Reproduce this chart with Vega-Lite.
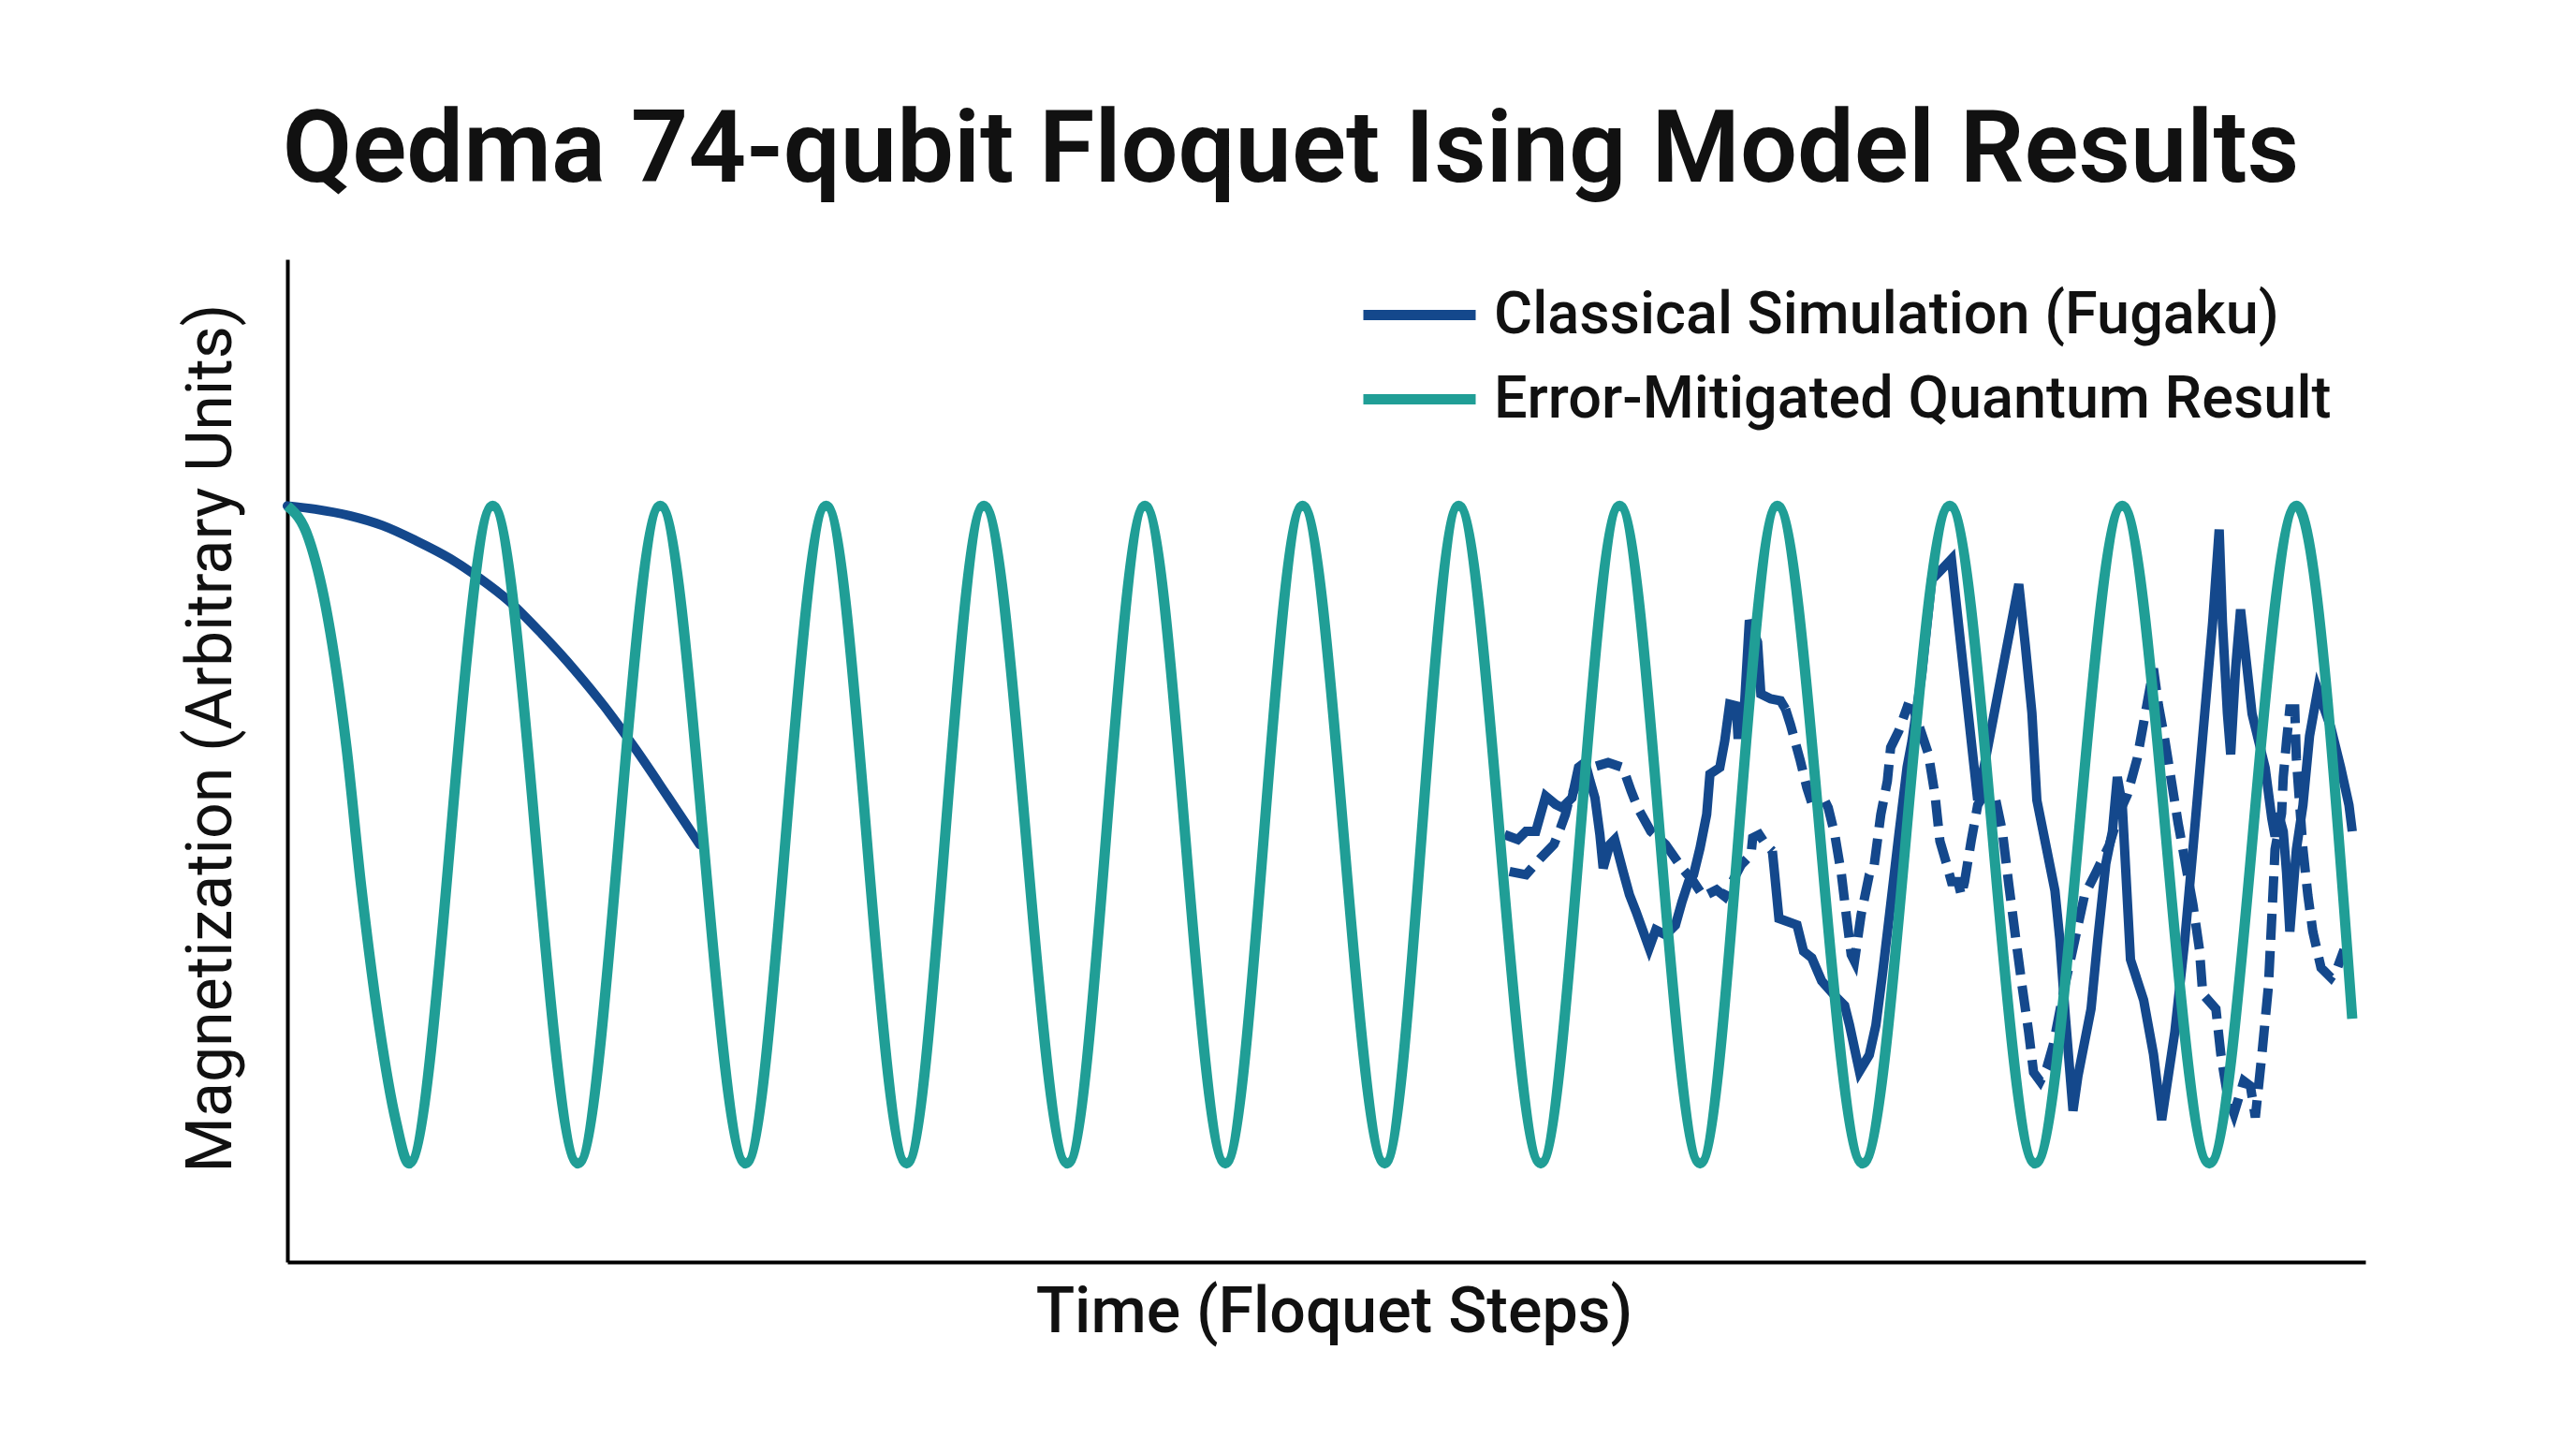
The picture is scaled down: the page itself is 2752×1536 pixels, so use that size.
{
  "$schema": "https://vega.github.io/schema/vega-lite/v6.json",
  "description": "Qedma 74-qubit Floquet Ising model: classical simulation vs error-mitigated quantum result.",
  "width": 2220,
  "height": 1071,
  "autosize": "none",
  "padding": {"left": 307, "top": 277, "right": 225, "bottom": 188},
  "background": "white",
  "config": {
    "view": {"stroke": null},
    "font": "Roboto",
    "axis": {"domainColor": "#000", "domainWidth": 4, "ticks": false, "labels": false, "grid": false,
             "titleFont": "Roboto", "titleFontSize": 68, "titleFontWeight": 500, "titleColor": "#111"},
    "legend": {"orient": "none", "legendX": 1144, "legendY": 24, "padding": 0,
               "symbolType": "M-1,0H3", "symbolSize": 3600, "symbolStrokeWidth": 11,
               "labelFont": "Roboto", "labelFontSize": 63, "labelFontWeight": 500, "labelColor": "#111",
               "labelLimit": 2000, "labelOffset": 74, "rowPadding": 22}
  },
  "title": {"text": "Qedma 74-qubit Floquet Ising Model Results", "font": "Roboto", "fontSize": 108, "fontWeight": 600,
            "color": "#111", "anchor": "middle", "frame": "group", "baseline": "alphabetic", "offset": -25, "dx": -38},
  "datasets": {
    "decay": [
      {"step": 0, "mag": 1.0}, {"step": 1.7, "mag": 0.99}, {"step": 3.8, "mag": 0.97}, {"step": 5.8, "mag": 0.94},
      {"step": 7.8, "mag": 0.895}, {"step": 9.9, "mag": 0.84}, {"step": 11.7, "mag": 0.78}, {"step": 13.5, "mag": 0.71},
      {"step": 15.5, "mag": 0.61}, {"step": 17.5, "mag": 0.5}, {"step": 19.3, "mag": 0.39}, {"step": 21.2, "mag": 0.26},
      {"step": 23.1, "mag": 0.12}, {"step": 25.1, "mag": -0.03}
    ],
    "fugakuA": [
      {"step": 74.1, "mag": 0.0}, {"step": 74.9, "mag": -0.015}, {"step": 75.4, "mag": 0.01}, {"step": 76.0, "mag": 0.01},
      {"step": 76.6, "mag": 0.117}, {"step": 77.2, "mag": 0.092}, {"step": 77.6, "mag": 0.082}, {"step": 78.2, "mag": 0.112},
      {"step": 78.6, "mag": 0.205}, {"step": 79.0, "mag": 0.22}, {"step": 79.3, "mag": 0.163}, {"step": 79.6, "mag": 0.112},
      {"step": 79.9, "mag": 0.0}, {"step": 80.1, "mag": -0.102}, {"step": 80.5, "mag": -0.03}, {"step": 80.8, "mag": -0.015},
      {"step": 81.3, "mag": -0.11}, {"step": 81.7, "mag": -0.183}, {"step": 82.1, "mag": -0.234}, {"step": 82.9, "mag": -0.345},
      {"step": 83.3, "mag": -0.29}, {"step": 83.9, "mag": -0.305}, {"step": 84.5, "mag": -0.275}, {"step": 84.9, "mag": -0.204},
      {"step": 85.3, "mag": -0.143}, {"step": 85.6, "mag": -0.122}, {"step": 86.0, "mag": -0.04}, {"step": 86.4, "mag": 0.061},
      {"step": 86.6, "mag": 0.184}, {"step": 87.2, "mag": 0.204}, {"step": 87.5, "mag": 0.285}, {"step": 87.8, "mag": 0.397},
      {"step": 88.2, "mag": 0.392}, {"step": 88.3, "mag": 0.305}, {"step": 88.6, "mag": 0.305}, {"step": 89.0, "mag": 0.652},
      {"step": 89.5, "mag": 0.585}, {"step": 89.7, "mag": 0.428}, {"step": 90.3, "mag": 0.413}, {"step": 90.9, "mag": 0.407},
      {"step": 91.2, "mag": 0.382}
    ],
    "fugakuAdash": [
      {"step": 91.2, "mag": 0.382}, {"step": 91.5, "mag": 0.335}, {"step": 92.1, "mag": 0.225}, {"step": 92.5, "mag": 0.143},
      {"step": 92.7, "mag": 0.112}, {"step": 93.4, "mag": 0.123}, {"step": 93.8, "mag": 0.082}, {"step": 94.2, "mag": 0.0},
      {"step": 94.6, "mag": -0.12}, {"step": 94.9, "mag": -0.245}, {"step": 95.2, "mag": -0.365}, {"step": 95.4, "mag": -0.385},
      {"step": 95.8, "mag": -0.244}, {"step": 96.3, "mag": -0.122}, {"step": 96.6, "mag": -0.092}, {"step": 97.0, "mag": 0.061},
      {"step": 97.4, "mag": 0.163}, {"step": 97.6, "mag": 0.265}, {"step": 98.1, "mag": 0.316}, {"step": 98.6, "mag": 0.387},
      {"step": 99.0, "mag": 0.38}, {"step": 99.9, "mag": 0.245}, {"step": 100.3, "mag": 0.12}, {"step": 100.6, "mag": -0.02},
      {"step": 101.0, "mag": -0.088}, {"step": 101.3, "mag": -0.143}, {"step": 101.7, "mag": -0.143}, {"step": 101.9, "mag": -0.185},
      {"step": 102.1, "mag": -0.143}, {"step": 102.5, "mag": -0.02}, {"step": 102.9, "mag": 0.09}, {"step": 103.4, "mag": 0.13},
      {"step": 104.0, "mag": 0.105}, {"step": 104.4, "mag": 0.01}, {"step": 104.8, "mag": -0.155}, {"step": 105.2, "mag": -0.31},
      {"step": 105.6, "mag": -0.46}, {"step": 106.0, "mag": -0.6}, {"step": 106.3, "mag": -0.723}, {"step": 106.7, "mag": -0.75},
      {"step": 107.1, "mag": -0.71}, {"step": 107.5, "mag": -0.64}, {"step": 108.2, "mag": -0.46}, {"step": 108.8, "mag": -0.323},
      {"step": 109.4, "mag": -0.185}, {"step": 110.1, "mag": -0.115}, {"step": 110.9, "mag": -0.033}, {"step": 111.5, "mag": 0.065},
      {"step": 112.0, "mag": 0.12}, {"step": 112.6, "mag": 0.23}, {"step": 113.2, "mag": 0.395}, {"step": 113.6, "mag": 0.505},
      {"step": 113.9, "mag": 0.395}, {"step": 114.3, "mag": 0.285}, {"step": 114.7, "mag": 0.16}, {"step": 115.1, "mag": 0.035},
      {"step": 115.5, "mag": -0.075}, {"step": 116.0, "mag": -0.212}, {"step": 116.4, "mag": -0.35}, {"step": 116.6, "mag": -0.485},
      {"step": 117.4, "mag": -0.53}, {"step": 117.7, "mag": -0.668}, {"step": 118.1, "mag": -0.792}, {"step": 118.5, "mag": -0.848},
      {"step": 119.1, "mag": -0.75}, {"step": 119.5, "mag": -0.765}, {"step": 119.8, "mag": -0.86}, {"step": 120.2, "mag": -0.668},
      {"step": 120.6, "mag": -0.46}, {"step": 120.8, "mag": -0.254}, {"step": 121.0, "mag": -0.045}, {"step": 121.4, "mag": 0.065},
      {"step": 121.5, "mag": 0.175}, {"step": 121.7, "mag": 0.285}, {"step": 121.9, "mag": 0.382}, {"step": 122.2, "mag": 0.382},
      {"step": 122.3, "mag": 0.23}, {"step": 122.5, "mag": 0.092}, {"step": 122.7, "mag": -0.045}, {"step": 123.0, "mag": -0.185},
      {"step": 123.3, "mag": -0.295}, {"step": 123.8, "mag": -0.405}, {"step": 124.4, "mag": -0.435}, {"step": 124.8, "mag": -0.405},
      {"step": 125.2, "mag": -0.35}
    ],
    "fugakuBdash": [
      {"step": 74.4, "mag": -0.112}, {"step": 75.4, "mag": -0.122}, {"step": 76.3, "mag": -0.071}, {"step": 77.1, "mag": -0.03},
      {"step": 77.5, "mag": 0.02}, {"step": 77.8, "mag": 0.061}, {"step": 78.0, "mag": 0.102}, {"step": 78.6, "mag": 0.163},
      {"step": 79.4, "mag": 0.204}, {"step": 80.4, "mag": 0.219}, {"step": 81.3, "mag": 0.204}, {"step": 81.8, "mag": 0.133},
      {"step": 82.2, "mag": 0.082}, {"step": 83.0, "mag": 0.01}, {"step": 83.9, "mag": -0.03}, {"step": 84.9, "mag": -0.102},
      {"step": 85.6, "mag": -0.143}, {"step": 86.2, "mag": -0.188}, {"step": 87.0, "mag": -0.168}, {"step": 87.5, "mag": -0.188},
      {"step": 88.5, "mag": -0.092}, {"step": 89.1, "mag": -0.061}, {"step": 89.2, "mag": -0.01}, {"step": 89.6, "mag": 0.0},
      {"step": 90.0, "mag": -0.03}, {"step": 90.4, "mag": -0.05}
    ],
    "fugakuB": [
      {"step": 90.4, "mag": -0.05}, {"step": 90.5, "mag": -0.1}, {"step": 90.8, "mag": -0.255}, {"step": 91.9, "mag": -0.275},
      {"step": 92.3, "mag": -0.355}, {"step": 92.8, "mag": -0.375}, {"step": 93.4, "mag": -0.445}, {"step": 94.2, "mag": -0.49},
      {"step": 94.8, "mag": -0.52}, {"step": 95.1, "mag": -0.58}, {"step": 95.7, "mag": -0.72}, {"step": 96.3, "mag": -0.67},
      {"step": 96.7, "mag": -0.58}, {"step": 97.1, "mag": -0.425}, {"step": 97.6, "mag": -0.214}, {"step": 98.1, "mag": 0.0},
      {"step": 98.6, "mag": 0.205}, {"step": 98.9, "mag": 0.285}, {"step": 99.5, "mag": 0.49}, {"step": 100.1, "mag": 0.775},
      {"step": 101.3, "mag": 0.838}, {"step": 102.9, "mag": 0.105}, {"step": 105.4, "mag": 0.762}, {"step": 105.8, "mag": 0.575},
      {"step": 106.2, "mag": 0.37}, {"step": 106.5, "mag": 0.105}, {"step": 107.1, "mag": -0.045}, {"step": 107.6, "mag": -0.17},
      {"step": 107.9, "mag": -0.32}, {"step": 108.2, "mag": -0.53}, {"step": 108.7, "mag": -0.84}, {"step": 109.0, "mag": -0.735},
      {"step": 109.8, "mag": -0.53}, {"step": 110.2, "mag": -0.323}, {"step": 110.7, "mag": -0.088}, {"step": 111.1, "mag": 0.01},
      {"step": 111.4, "mag": 0.175}, {"step": 111.7, "mag": 0.09}, {"step": 112.2, "mag": -0.38}, {"step": 113.0, "mag": -0.503},
      {"step": 113.6, "mag": -0.668}, {"step": 114.1, "mag": -0.868}, {"step": 114.9, "mag": -0.6}, {"step": 115.5, "mag": -0.323},
      {"step": 116.0, "mag": -0.045}, {"step": 116.6, "mag": 0.3}, {"step": 117.2, "mag": 0.645}, {"step": 117.6, "mag": 0.928},
      {"step": 117.8, "mag": 0.645}, {"step": 118.1, "mag": 0.368}, {"step": 118.3, "mag": 0.244}, {"step": 118.6, "mag": 0.505},
      {"step": 118.9, "mag": 0.685}, {"step": 119.3, "mag": 0.505}, {"step": 119.6, "mag": 0.368}, {"step": 120.0, "mag": 0.285},
      {"step": 120.4, "mag": 0.203}, {"step": 120.8, "mag": 0.05}, {"step": 121.0, "mag": -0.005}, {"step": 121.2, "mag": 0.065},
      {"step": 121.5, "mag": 0.01}, {"step": 121.7, "mag": -0.115}, {"step": 121.9, "mag": -0.295}, {"step": 122.3, "mag": -0.045},
      {"step": 122.7, "mag": 0.09}, {"step": 123.1, "mag": 0.3}, {"step": 123.6, "mag": 0.44}, {"step": 124.4, "mag": 0.325},
      {"step": 125.0, "mag": 0.203}, {"step": 125.5, "mag": 0.09}, {"step": 125.7, "mag": 0.01}
    ],
    "quantum": [
      {"step": 0, "mag": 1}, {"step": 1.3, "mag": 0.9}, {"step": 2.35, "mag": 0.69}, {"step": 3.6, "mag": 0.265},
      {"step": 4.5, "mag": -0.16}, {"step": 5.6, "mag": -0.585}, {"step": 6.6, "mag": -0.87}, {"step": 7.4, "mag": -1},
      {"step": 12.5, "mag": 1}, {"step": 17.7, "mag": -1},
      {"step": 22.7, "mag": 1}, {"step": 27.9, "mag": -1}, {"step": 32.8, "mag": 1}, {"step": 37.7, "mag": -1},
      {"step": 42.4, "mag": 1}, {"step": 47.5, "mag": -1}, {"step": 52.2, "mag": 1}, {"step": 57.1, "mag": -1},
      {"step": 61.8, "mag": 1}, {"step": 66.8, "mag": -1}, {"step": 71.3, "mag": 1}, {"step": 76.3, "mag": -1},
      {"step": 81.1, "mag": 1}, {"step": 86.0, "mag": -1}, {"step": 90.7, "mag": 1}, {"step": 95.9, "mag": -1},
      {"step": 101.2, "mag": 1}, {"step": 106.4, "mag": -1}, {"step": 111.7, "mag": 1}, {"step": 117.0, "mag": -1},
      {"step": 122.3, "mag": 1}, {"step": 125.7, "mag": -0.56}
    ]
  },
  "encoding": {
    "x": {"field": "step", "type": "quantitative", "scale": {"domain": [0, 126.5], "nice": false, "zero": false},
          "axis": {"title": "Time (Floquet Steps)", "titleX": 1118, "titleY": 74, "titleBaseline": "alphabetic", "titleAlign": "center"}},
    "y": {"field": "mag", "type": "quantitative", "scale": {"domain": [-1.3, 1.75], "nice": false, "zero": false},
          "axis": {"title": "Magnetization (Arbitrary Units)", "titleX": -61, "titleY": 511, "titleAngle": -90,
                   "titleBaseline": "alphabetic", "titleAlign": "center", "titleFontWeight": 400}}
  },
  "layer": [
    {
      "data": {"name": "decay"},
      "mark": {"type": "line", "interpolate": "monotone", "strokeWidth": 10, "strokeCap": "round"},
      "encoding": {"color": {"datum": "Classical Simulation (Fugaku)", "type": "nominal",
                             "scale": {"domain": ["Classical Simulation (Fugaku)", "Error-Mitigated Quantum Result"], "range": ["#14488c", "#209e96"]},
                             "legend": {"title": null}}}
    },
    {
      "data": {"name": "fugakuA"},
      "mark": {"type": "line", "strokeWidth": 10, "strokeJoin": "miter"},
      "encoding": {"color": {"datum": "Classical Simulation (Fugaku)", "type": "nominal"}}
    },
    {
      "data": {"name": "fugakuAdash"},
      "mark": {"type": "line", "strokeWidth": 10, "strokeDash": [28, 12]},
      "encoding": {"color": {"datum": "Classical Simulation (Fugaku)", "type": "nominal"}}
    },
    {
      "data": {"name": "fugakuBdash"},
      "mark": {"type": "line", "strokeWidth": 10, "strokeDash": [28, 12]},
      "encoding": {"color": {"datum": "Classical Simulation (Fugaku)", "type": "nominal"}}
    },
    {
      "data": {"name": "fugakuB"},
      "mark": {"type": "line", "strokeWidth": 10, "strokeJoin": "miter"},
      "encoding": {"color": {"datum": "Classical Simulation (Fugaku)", "type": "nominal"}}
    },
    {
      "data": {"name": "quantum"},
      "mark": {"type": "line", "interpolate": "monotone", "strokeWidth": 11},
      "encoding": {"color": {"datum": "Error-Mitigated Quantum Result", "type": "nominal"}}
    }
  ]
}
